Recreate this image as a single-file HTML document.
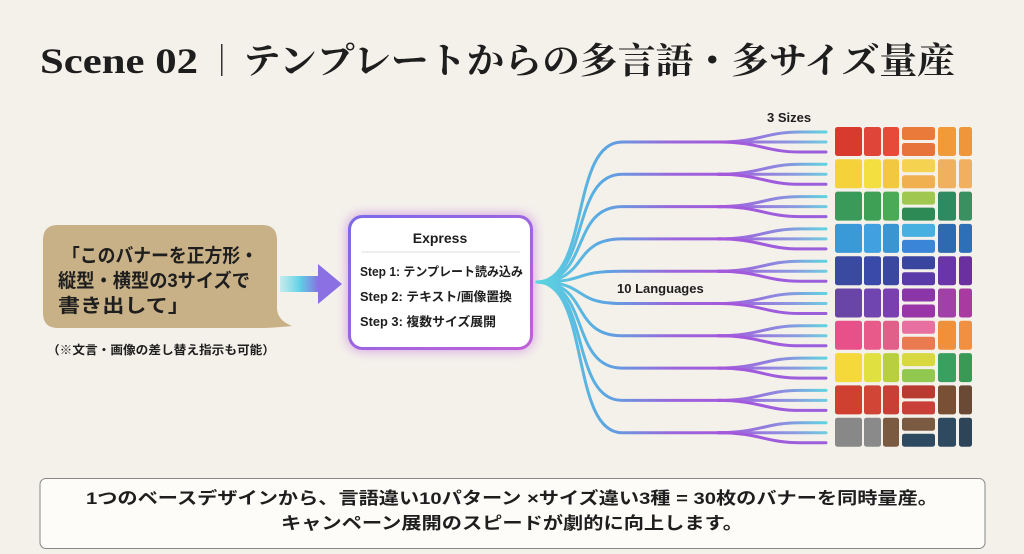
<!DOCTYPE html>
<html><head><meta charset="utf-8"><style>
html,body{margin:0;padding:0;background:#f4f1ea;}
svg{display:block;}
text{font-family:"Liberation Sans","Noto Sans CJK JP",sans-serif;font-weight:bold;fill:#1e1e1e;}
.serif{font-family:"Liberation Serif","Noto Serif CJK SC",serif;}
</style></head><body>
<svg width="1024" height="554" viewBox="0 0 1024 554" xmlns="http://www.w3.org/2000/svg">
<defs>
<linearGradient id="main" gradientUnits="userSpaceOnUse" x1="537" y1="0" x2="730" y2="0">
<stop offset="0" stop-color="#5cd6e0"/><stop offset="0.35" stop-color="#5aa6e2"/><stop offset="0.7" stop-color="#9a66dc"/><stop offset="1" stop-color="#a458dc"/>
</linearGradient>
<linearGradient id="fanT" gradientUnits="userSpaceOnUse" x1="720" y1="0" x2="828" y2="0">
<stop offset="0" stop-color="#a458dc"/><stop offset="0.6" stop-color="#8a8ee0"/><stop offset="1" stop-color="#5cd8e0"/>
</linearGradient>
<linearGradient id="fanM" gradientUnits="userSpaceOnUse" x1="720" y1="0" x2="828" y2="0">
<stop offset="0" stop-color="#a458dc"/><stop offset="0.7" stop-color="#8a9ce0"/><stop offset="1" stop-color="#6cd0e0"/>
</linearGradient>
<linearGradient id="fanB" gradientUnits="userSpaceOnUse" x1="720" y1="0" x2="828" y2="0">
<stop offset="0" stop-color="#a458dc"/><stop offset="1" stop-color="#9a60dc"/>
</linearGradient>
<linearGradient id="arr" x1="0" y1="0" x2="1" y2="0">
<stop offset="0" stop-color="#7fe0ea" stop-opacity="0.4"/><stop offset="0.5" stop-color="#5fd0e6"/><stop offset="1" stop-color="#8a6ae0"/>
</linearGradient>
<linearGradient id="boxb" x1="0" y1="0" x2="1" y2="1">
<stop offset="0" stop-color="#7a6ae8"/><stop offset="1" stop-color="#c060d8"/>
</linearGradient>
<filter id="glow" x="-30%" y="-30%" width="160%" height="160%"><feGaussianBlur stdDeviation="6"/></filter>
</defs>

<!-- Title -->
<text class="serif" x="40" y="73" font-size="36" textLength="158" lengthAdjust="spacingAndGlyphs">Scene 02</text>
<rect x="221" y="44" width="1.5" height="32" fill="#333"/>
<text class="serif" x="243" y="73" font-size="36" textLength="712" lengthAdjust="spacingAndGlyphs">テンプレートからの多言語・多サイズ量産</text>

<!-- Bubble -->
<path d="M58,225 H262 Q277,225 277,240 V308 Q277,320 292,326 Q270,328 262,328 H58 Q43,328 43,313 V240 Q43,225 58,225 Z" fill="#c8b087"/>
<text x="62" y="262" font-size="19" textLength="196" lengthAdjust="spacingAndGlyphs">「このバナーを正方形・</text>
<text x="58" y="287" font-size="19" textLength="192" lengthAdjust="spacingAndGlyphs">縦型・横型の3サイズで</text>
<text x="58" y="312" font-size="19" textLength="132" lengthAdjust="spacingAndGlyphs">書き出して」</text>
<text x="47" y="354" font-size="12" textLength="228" lengthAdjust="spacingAndGlyphs">（※文言・画像の差し替え指示も可能）</text>

<!-- Arrow -->
<rect x="280" y="276" width="40" height="16" fill="url(#arr)"/>
<path d="M318,264 L342,284 L318,304 Z" fill="#8a70e2"/>

<!-- Express box -->
<rect x="348" y="215" width="185" height="135" rx="14" fill="#c070e0" filter="url(#glow)" opacity="0.7"/>
<rect x="349.5" y="216.5" width="182" height="132" rx="13" fill="#fff" stroke="url(#boxb)" stroke-width="3"/>
<text x="440" y="243" font-size="14" text-anchor="middle">Express</text>
<line x1="362" y1="252" x2="520" y2="252" stroke="#ddd" stroke-width="1"/>
<text x="360" y="276" font-size="12.5" textLength="163" lengthAdjust="spacingAndGlyphs">Step 1: テンプレート読み込み</text>
<text x="360" y="301" font-size="12.5" textLength="152" lengthAdjust="spacingAndGlyphs">Step 2: テキスト/画像置換</text>
<text x="360" y="326" font-size="12.5" textLength="136" lengthAdjust="spacingAndGlyphs">Step 3: 複数サイズ展開</text>

<!-- Branches -->
<g fill="none" stroke-width="3" stroke-linecap="round" id="br"></g>

<text x="767" y="122" font-size="13">3 Sizes</text>
<text x="617" y="293" font-size="13">10 Languages</text>

<g id="tiles"></g>

<!-- Bottom box -->
<rect x="40" y="478.5" width="945" height="70" rx="6" fill="#fdfcf9" stroke="#888" stroke-width="1"/>
<text x="512" y="504" font-size="17" text-anchor="middle" textLength="852" lengthAdjust="spacingAndGlyphs">1つのベースデザインから、言語違い10パターン ×サイズ違い3種 = 30枚のバナーを同時量産。</text>
<text x="512" y="529" font-size="17" text-anchor="middle" textLength="462" lengthAdjust="spacingAndGlyphs">キャンペーン展開のスピードが劇的に向上します。</text>

<script>
var ns="http://www.w3.org/2000/svg";
var br=document.getElementById("br"), tl=document.getElementById("tiles");
function p(d,s){var e=document.createElementNS(ns,"path");e.setAttribute("d",d);e.setAttribute("stroke",s);br.appendChild(e);}
var cols=[
["#d93a2e","#e0453a","#e84a3a","#ea7a3a","#e8733a","#f09a3a","#f0963a"],
["#f5d23a","#f3e040","#f2c840","#f5d350","#f0b050","#f0b060","#f0b060"],
["#3a9a5a","#3ea055","#4aaa55","#a0c850","#2e8a55","#2e8a60","#3a9060"],
["#3a9ad8","#40a0e0","#3a95d0","#48b0e0","#3a85d8","#2e6ab0","#2e70b8"],
["#3a4aa0","#3a4aa8","#3a48a0","#3a45a0","#5a3aa8","#6a35a8","#6a30a0"],
["#6a45a8","#7045b0","#7a40b0","#8a35a8","#9a35a8","#a040a8","#a83aa0"],
["#e8508a","#e85a8a","#e0608a","#e870a0","#ea7a50","#f0903a","#f09040"],
["#f5d83a","#e0e040","#b8d040","#d8d840","#90c850","#3aa060","#3a9a55"],
["#d04030","#d04535","#c84035","#b83a30","#c84038","#7a5035","#6a4a35"],
["#888888","#8a8a8a","#7a5a40","#7a5a40","#2e4a60","#2e4a60","#2e4458"]];
function r(x,y,w,h,c){var e=document.createElementNS(ns,"rect");e.setAttribute("x",x);e.setAttribute("y",y);e.setAttribute("width",w);e.setAttribute("height",h);e.setAttribute("rx",2.5);e.setAttribute("fill",c);tl.appendChild(e);}
for(var i=0;i<10;i++){
 var yc=142+i*32.3;
 p("M537,282 C590,282 570,"+yc+" 622,"+yc+" L722,"+yc,"url(#main)");
 p("M718,"+yc+" C760,"+yc+" 765,"+(yc-10)+" 800,"+(yc-10)+" L826,"+(yc-10),"url(#fanT)");
 p("M718,"+yc+" L826,"+yc,"url(#fanM)");
 p("M718,"+yc+" C760,"+yc+" 765,"+(yc+10)+" 800,"+(yc+10)+" L826,"+(yc+10),"url(#fanB)");
 var t=127+i*32.3, c=cols[i];
 r(835,t,27,29,c[0]);r(864,t,17,29,c[1]);r(883,t,16,29,c[2]);
 r(902,t,33,13,c[3]);r(902,t+16,33,13,c[4]);
 r(938,t,18,29,c[5]);r(959,t,13,29,c[6]);
}
</script>
</svg>
</body></html>
